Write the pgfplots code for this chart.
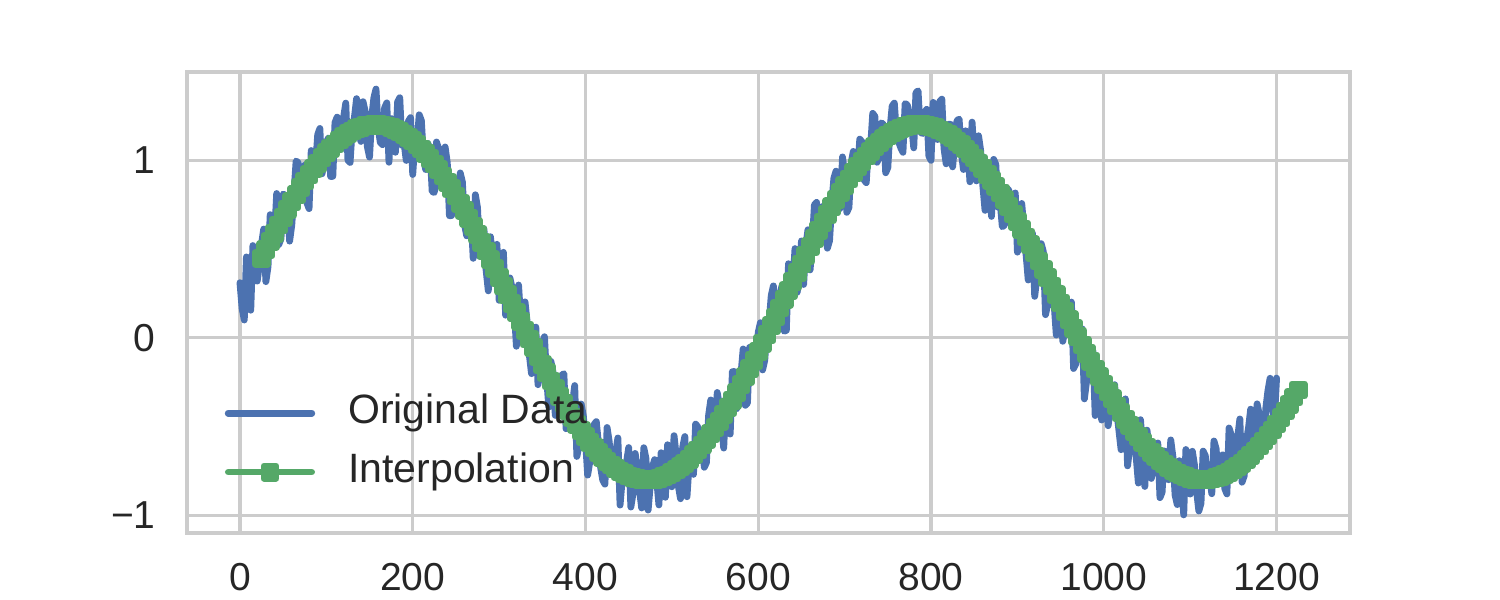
\documentclass[border=0pt]{standalone}
\usepackage{pgfplots}
\pgfplotsset{compat=1.18}
\usepackage{pgfplotstable}
\usepackage{fontspec}
\setmainfont{Liberation Sans}
\definecolor{sbblue}{HTML}{4C72B0}
\definecolor{sbgreen}{HTML}{55A868}
\definecolor{sbgrid}{HTML}{CCCCCC}
\definecolor{sbtext}{HTML}{262626}

\pgfplotstableread{
x y
0 0.310
2.5 0.165
5 0.100
7.5 0.455
10 0.320
12.5 0.155
15 0.519
17.5 0.444
20 0.319
22.5 0.413
25 0.527
27.5 0.612
30 0.316
32.5 0.400
35 0.693
37.5 0.606
40 0.569
42.5 0.812
45 0.525
47.5 0.557
50 0.809
52.5 0.801
55 0.773
57.5 0.544
60 0.635
62.5 0.815
65 0.995
67.5 0.985
70 0.794
72.5 0.793
75 0.972
77.5 0.760
80 0.727
82.5 1.054
85 0.961
87.5 0.967
90 1.143
92.5 1.178
95 0.923
97.5 0.987
100 1.101
102.5 1.124
105 0.907
107.5 0.909
110 1.211
112.5 1.242
115 1.083
117.5 1.063
120 1.242
122.5 1.321
125 0.999
127.5 0.987
130 1.184
132.5 1.240
135 1.346
137.5 1.171
140 1.105
142.5 1.329
145 1.273
147.5 1.075
150 1.017
152.5 1.239
155 1.350
157.5 1.400
160 1.180
162.5 1.099
165 1.087
167.5 1.295
170 1.322
172.5 0.988
175 1.234
177.5 1.209
180 1.044
182.5 1.328
185 1.351
187.5 1.084
190 1.096
192.5 0.998
195 1.219
197.5 1.239
200 0.919
202.5 1.098
205 1.097
207.5 1.255
210 1.223
212.5 1.010
215 0.947
217.5 1.093
220 1.068
222.5 0.823
225 0.818
227.5 1.102
230 1.066
232.5 0.869
235 0.881
237.5 1.074
240 0.986
242.5 0.687
245 0.688
247.5 0.888
250 0.818
252.5 0.768
255 0.928
257.5 0.877
260 0.636
262.5 0.574
265 0.752
267.5 0.690
270 0.447
272.5 0.805
275 0.732
277.5 0.459
280 0.515
282.5 0.612
285 0.378
287.5 0.264
290 0.569
292.5 0.445
295 0.441
297.5 0.526
300 0.211
302.5 0.246
305 0.481
307.5 0.127
310 0.192
312.5 0.337
315 0.282
317.5 0.167
320 -0.048
322.5 0.297
325 0.102
327.5 0.027
330 0.202
332.5 0.087
335 -0.097
337.5 -0.202
340 0.004
342.5 0.060
345 -0.264
347.5 -0.188
350 -0.031
352.5 0.006
355 -0.227
357.5 -0.390
360 -0.133
362.5 -0.195
365 -0.437
367.5 -0.319
370 -0.310
372.5 -0.211
375 -0.202
377.5 -0.512
380 -0.492
382.5 -0.391
385 -0.370
387.5 -0.269
390 -0.668
392.5 -0.606
395 -0.373
397.5 -0.440
400 -0.577
402.5 -0.773
405 -0.698
407.5 -0.573
410 -0.488
412.5 -0.472
415 -0.595
417.5 -0.729
420 -0.802
422.5 -0.824
425 -0.505
427.5 -0.586
430 -0.766
432.5 -0.726
435 -0.645
437.5 -0.564
440 -0.942
442.5 -0.799
445 -0.756
447.5 -0.702
450 -0.618
452.5 -0.953
455 -0.877
457.5 -0.651
460 -0.734
462.5 -0.856
465 -0.958
467.5 -0.619
470 -0.680
472.5 -0.970
475 -0.829
477.5 -0.728
480 -0.686
482.5 -0.804
485 -0.941
487.5 -0.647
490 -0.763
492.5 -0.898
495 -0.602
497.5 -0.726
500 -0.839
502.5 -0.551
505 -0.663
507.5 -0.835
510 -0.906
512.5 -0.616
515 -0.556
517.5 -0.895
520 -0.704
522.5 -0.642
525 -0.769
527.5 -0.486
530 -0.502
532.5 -0.688
535 -0.554
537.5 -0.729
540 -0.703
542.5 -0.437
545 -0.350
547.5 -0.523
550 -0.556
552.5 -0.308
555 -0.380
557.5 -0.491
560 -0.621
562.5 -0.342
565 -0.382
567.5 -0.542
570 -0.191
572.5 -0.190
575 -0.399
577.5 -0.347
580 -0.205
582.5 -0.063
585 -0.380
587.5 -0.367
590 -0.054
592.5 -0.081
595 -0.157
597.5 -0.113
600 0.031
602.5 0.085
605 -0.181
607.5 -0.127
610 0.038
612.5 0.082
615 0.237
617.5 0.292
620 0.037
622.5 0.042
625 0.247
627.5 0.292
630 0.037
632.5 0.042
635 0.417
637.5 0.322
640 0.297
642.5 0.502
645 0.256
647.5 0.321
650 0.545
652.5 0.300
655 0.514
657.5 0.608
660 0.382
662.5 0.535
665 0.748
667.5 0.762
670 0.555
672.5 0.588
675 0.740
677.5 0.742
680 0.504
682.5 0.546
685 0.747
687.5 0.898
690 0.938
692.5 0.738
695 0.728
697.5 1.018
700 0.917
702.5 0.706
705 0.734
707.5 0.982
710 1.049
712.5 0.936
715 0.932
717.5 1.118
720 1.104
722.5 0.889
725 0.873
727.5 1.077
730 1.070
732.5 1.263
735 1.246
737.5 0.988
740 1.019
742.5 1.210
745 1.200
747.5 0.929
750 0.958
752.5 1.176
755 1.304
757.5 1.321
760 1.148
762.5 1.104
765 1.069
767.5 1.044
770 1.318
772.5 1.311
775 1.244
777.5 1.197
780 1.069
782.5 1.380
785 1.390
787.5 1.160
790 1.149
792.5 1.268
795 1.286
797.5 1.023
800 0.999
802.5 1.325
805 1.191
807.5 1.116
810 1.330
812.5 1.343
815 1.066
817.5 0.979
820 1.201
822.5 1.202
825 0.962
827.5 1.102
830 1.222
832.5 1.231
835 1.049
837.5 0.947
840 1.165
842.5 1.082
845 0.878
847.5 1.214
850 1.019
852.5 0.883
855 1.137
857.5 1.051
860 0.854
862.5 0.717
865 0.979
867.5 0.911
870 0.683
872.5 1.004
875 0.975
877.5 0.735
880 0.765
882.5 0.625
885 0.634
887.5 0.843
890 0.831
892.5 0.679
895 0.707
897.5 0.815
900 0.482
902.5 0.549
905 0.756
907.5 0.613
910 0.469
912.5 0.325
915 0.561
917.5 0.587
920 0.233
922.5 0.339
925 0.384
927.5 0.530
930 0.485
932.5 0.130
935 0.185
937.5 0.320
940 0.285
942.5 0.190
945 0.015
947.5 0.290
950 0.245
952.5 -0.020
955 0.045
957.5 0.090
960 0.136
962.5 0.201
965 -0.173
967.5 -0.148
970 -0.052
972.5 0.004
975 0.050
977.5 -0.344
980 -0.247
982.5 -0.160
985 -0.132
987.5 -0.075
990 -0.438
992.5 -0.350
995 -0.151
997.5 -0.463
1000 -0.364
1002.5 -0.245
1005 -0.495
1007.5 -0.405
1010 -0.295
1012.5 -0.264
1015 -0.413
1017.5 -0.522
1020 -0.630
1022.5 -0.447
1025 -0.344
1027.5 -0.721
1030 -0.618
1032.5 -0.443
1035 -0.508
1037.5 -0.673
1040 -0.818
1042.5 -0.461
1045 -0.644
1047.5 -0.837
1050 -0.520
1052.5 -0.621
1055 -0.792
1057.5 -0.723
1060 -0.663
1062.5 -0.592
1065 -0.900
1067.5 -0.869
1070 -0.637
1072.5 -0.723
1075 -0.799
1077.5 -0.575
1080 -0.671
1082.5 -0.885
1085 -0.939
1087.5 -0.692
1090 -0.775
1092.5 -0.997
1095 -0.629
1097.5 -0.770
1100 -0.880
1102.5 -0.639
1105 -0.718
1107.5 -0.867
1110 -0.975
1112.5 -0.932
1115 -0.638
1117.5 -0.664
1120 -0.799
1122.5 -0.774
1125 -0.878
1127.5 -0.581
1130 -0.624
1132.5 -0.786
1135 -0.688
1137.5 -0.659
1140 -0.849
1142.5 -0.879
1145 -0.508
1147.5 -0.547
1150 -0.726
1152.5 -0.723
1155 -0.560
1157.5 -0.457
1160 -0.813
1162.5 -0.778
1165 -0.583
1167.5 -0.508
1170 -0.402
1172.5 -0.556
1175 -0.619
1177.5 -0.372
1180 -0.434
1182.5 -0.596
1185 -0.617
1187.5 -0.398
1190 -0.298
1192.5 -0.228
1195 -0.408
1197.5 -0.458
1200 -0.227
}\origdata

\pgfplotstableread{
x y
25 0.447
30 0.496
35 0.543
40 0.589
45 0.635
50 0.679
55 0.723
60 0.765
65 0.805
70 0.844
75 0.882
80 0.917
85 0.951
90 0.983
95 1.013
100 1.041
105 1.067
110 1.091
115 1.113
120 1.132
125 1.149
130 1.164
135 1.176
140 1.185
145 1.193
150 1.197
155 1.200
160 1.200
165 1.197
170 1.192
175 1.184
180 1.174
185 1.161
190 1.146
195 1.129
200 1.109
205 1.087
210 1.063
215 1.037
220 1.008
225 0.978
230 0.946
235 0.911
240 0.876
245 0.838
250 0.798
255 0.758
260 0.716
265 0.672
270 0.627
275 0.582
280 0.535
285 0.488
290 0.439
295 0.391
300 0.341
305 0.291
310 0.242
315 0.192
320 0.142
325 0.092
330 0.042
335 -0.007
340 -0.056
345 -0.104
350 -0.151
355 -0.197
360 -0.243
365 -0.287
370 -0.330
375 -0.372
380 -0.412
385 -0.450
390 -0.488
395 -0.523
400 -0.557
405 -0.588
410 -0.618
415 -0.645
420 -0.672
425 -0.695
430 -0.716
435 -0.735
440 -0.752
445 -0.766
450 -0.778
455 -0.787
460 -0.794
465 -0.798
470 -0.800
475 -0.799
480 -0.796
485 -0.791
490 -0.783
495 -0.772
500 -0.759
505 -0.743
510 -0.726
515 -0.706
520 -0.684
525 -0.659
530 -0.632
535 -0.604
540 -0.573
545 -0.540
550 -0.506
555 -0.470
560 -0.431
565 -0.392
570 -0.351
575 -0.309
580 -0.265
585 -0.220
590 -0.174
595 -0.127
600 -0.079
605 -0.031
610 0.018
615 0.067
620 0.117
625 0.167
630 0.217
635 0.267
640 0.317
645 0.366
650 0.415
655 0.464
660 0.512
665 0.558
670 0.605
675 0.650
680 0.694
685 0.737
690 0.778
695 0.818
700 0.857
705 0.894
710 0.929
715 0.962
720 0.994
725 1.023
730 1.050
735 1.076
740 1.099
745 1.120
750 1.138
755 1.154
760 1.168
765 1.179
770 1.188
775 1.194
780 1.199
785 1.200
790 1.199
795 1.196
800 1.189
805 1.182
810 1.170
815 1.158
820 1.143
825 1.127
830 1.107
835 1.086
840 1.063
845 1.039
850 1.012
855 0.984
860 0.953
865 0.921
870 0.887
875 0.852
880 0.815
885 0.777
890 0.737
895 0.697
900 0.654
905 0.611
910 0.567
915 0.523
920 0.478
925 0.432
930 0.385
935 0.338
940 0.291
945 0.243
950 0.196
955 0.148
960 0.101
965 0.053
970 0.006
975 -0.041
980 -0.087
985 -0.132
990 -0.176
995 -0.219
1000 -0.262
1005 -0.304
1010 -0.344
1015 -0.384
1020 -0.421
1025 -0.458
1030 -0.493
1035 -0.527
1040 -0.558
1045 -0.589
1050 -0.617
1055 -0.644
1060 -0.668
1065 -0.691
1070 -0.711
1075 -0.730
1080 -0.746
1085 -0.761
1090 -0.772
1095 -0.783
1100 -0.790
1105 -0.796
1110 -0.798
1115 -0.800
1120 -0.798
1125 -0.795
1130 -0.788
1135 -0.780
1140 -0.769
1145 -0.757
1150 -0.741
1155 -0.725
1160 -0.706
1165 -0.686
1170 -0.662
1175 -0.637
1180 -0.609
1185 -0.581
1190 -0.550
1195 -0.519
1200 -0.485
1205 -0.450
1210 -0.412
1215 -0.374
1220 -0.334
1225 -0.294
}\interpdata

\begin{document}
\begin{tikzpicture}
\begin{axis}[
  at={(0,0)}, anchor=south west,
  scale only axis,
  width=581.5bp, height=230.5bp,
  xmin=-61.3, xmax=1285,
  ymin=-1.099, ymax=1.496,
  xtick={0,200,400,600,800,1000,1200},
  xticklabels={0,200,400,600,800,1000,1200},
  ytick={-1,0,1},
  yticklabels={−1,0,1},
  tick style={draw=none},
  major tick length=0pt,
  grid=major,
  major grid style={draw=sbgrid, line width=1.6bp},
  axis line style={draw=sbgrid, line width=1.6bp},
  ticklabel style={font=\fontsize{19.5bp}{23bp}\selectfont, text=sbtext, inner sep=0pt},
  xticklabel shift=15bp,
  yticklabel shift=15.5bp,
  legend cell align=left,
  legend image code/.code={\draw[mark repeat=2,mark phase=2,#1] plot coordinates {(0bp,0bp) (20.9bp,0bp) (41.8bp,0bp)};},
  legend style={draw=none, fill=none, at={(0.0325,0.196)}, anchor=west,
    inner sep=0pt, outer sep=0pt,
    font=\fontsize{20.5bp}{24bp}\selectfont, text=sbtext,
    nodes={inner sep=0pt, text height=15bp, text depth=4.5bp},
    row sep=10bp,
    /tikz/every odd column/.append style={column sep=16.5bp}},
]
\addplot[color=sbblue, line width=3.4bp, line cap=round, line join=round] table[x=x,y=y] {\origdata};
\addlegendentry{Original Data}
\addplot[color=sbgreen, line width=3.2bp, line cap=round, line join=round,
  mark=square*, mark size=3.1bp, mark options={solid, fill=sbgreen, draw=none}] table[x=x,y=y] {\interpdata};
\addlegendentry{Interpolation}
\end{axis}
\path (-93.5bp,-33.5bp) rectangle (656.5bp,266.5bp);
\end{tikzpicture}
\end{document}
